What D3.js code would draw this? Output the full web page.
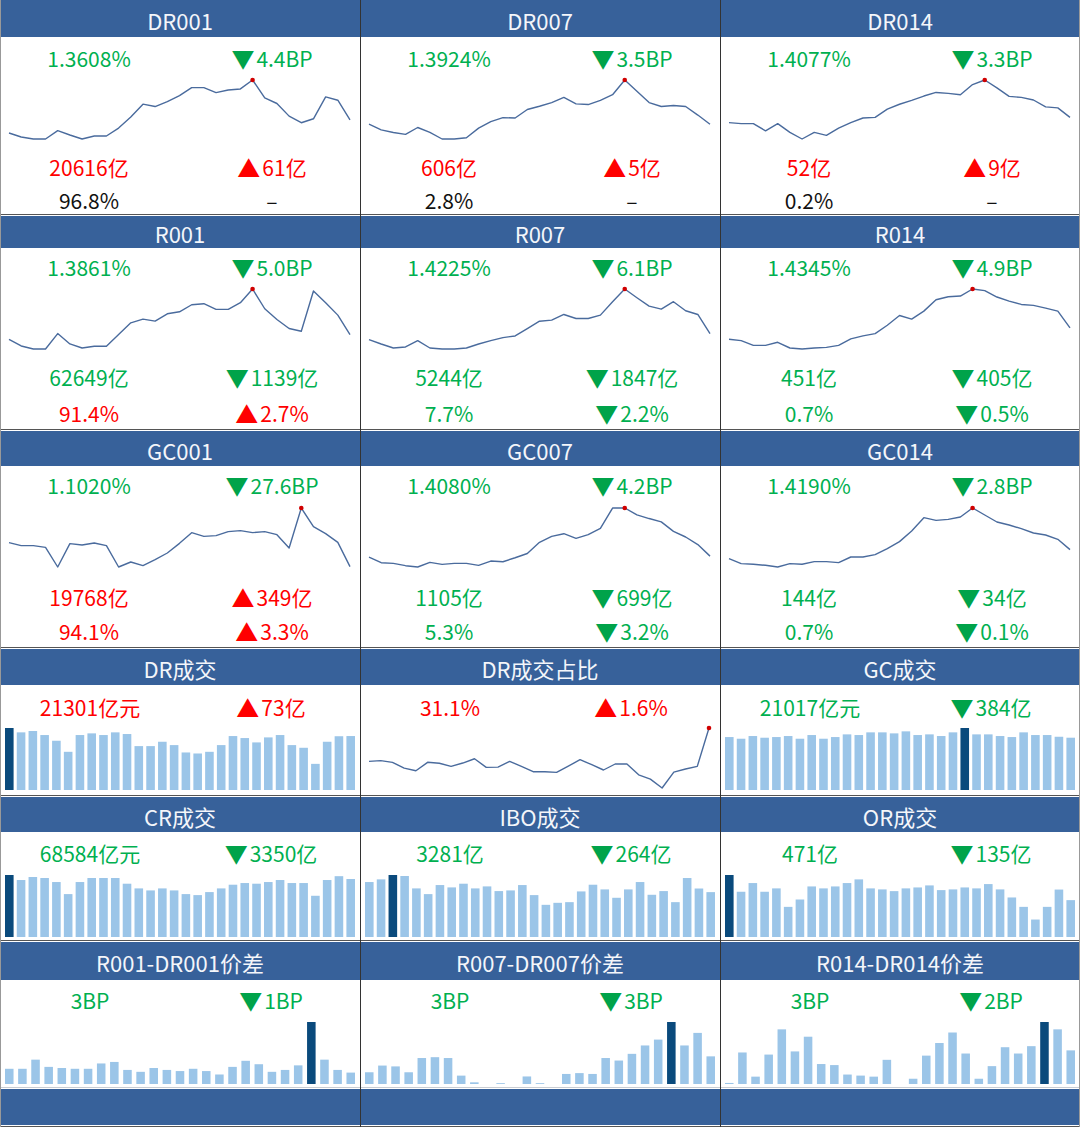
<!DOCTYPE html>
<html><head><meta charset="utf-8">
<script src="https://cdn.jsdelivr.net/npm/d3@7"></script>
<style>body{margin:0;background:#fff}svg{display:block}</style>
</head><body>
<svg id="c" width="1080" height="1127"></svg>
<script>
// ---------- DATA ----------
const rateTitles = ["DR001","DR007","DR014","R001","R007","R014","GC001","GC007","GC014"];
const dr001 = [1.3310,1.3220,1.3175,1.3175,1.3362,1.3265,1.3175,1.3242,1.3242,1.3421,1.3668,1.3959,1.3906,1.4018,1.4153,1.4332,1.4332,1.4220,1.4279,1.4302,1.4503,1.4100,1.3974,1.3690,1.3541,1.3630,1.4123,1.4048,1.3608];
const dr007 = [1.3924,1.3711,1.3611,1.3536,1.3799,1.3611,1.3361,1.3361,1.3411,1.3774,1.4024,1.4174,1.4161,1.4486,1.4611,1.4749,1.4949,1.4699,1.4674,1.4836,1.5049,1.5611,1.5186,1.4749,1.4599,1.4636,1.4599,1.4274,1.3924];
const dr014 = [1.3895,1.3861,1.3861,1.3610,1.3861,1.3554,1.3326,1.3554,1.3451,1.3701,1.3895,1.4054,1.4077,1.4362,1.4532,1.4669,1.4817,1.4942,1.4908,1.4862,1.5215,1.5374,1.5101,1.4805,1.4771,1.4680,1.4441,1.4407,1.4077];
const r001 = [1.3740,1.3568,1.3490,1.3490,1.3887,1.3620,1.3516,1.3559,1.3559,1.3861,1.4163,1.4258,1.4206,1.4395,1.4447,1.4628,1.4654,1.4508,1.4508,1.4680,1.5033,1.4525,1.4249,1.4016,1.3947,1.4982,1.4680,1.4361,1.3861];
const r007 = [1.4032,1.3893,1.3765,1.3797,1.4000,1.3765,1.3733,1.3733,1.3765,1.3893,1.4000,1.4097,1.4150,1.4386,1.4621,1.4653,1.4835,1.4707,1.4707,1.4814,1.5242,1.5648,1.5370,1.5102,1.5006,1.5242,1.4953,1.4835,1.4225];
const r014 = [1.4012,1.3973,1.3835,1.3835,1.3924,1.3757,1.3728,1.3757,1.3777,1.3835,1.4022,1.4110,1.4178,1.4423,1.4708,1.4600,1.4835,1.5168,1.5256,1.5276,1.5482,1.5433,1.5247,1.5129,1.5031,1.5002,1.4923,1.4835,1.4345];
const gc001 = [1.3742,1.3401,1.3401,1.3212,1.0982,1.3628,1.3477,1.3704,1.3401,1.0982,1.1549,1.1133,1.1814,1.2570,1.3666,1.4876,1.4460,1.4535,1.4989,1.5102,1.4876,1.4989,1.4649,1.3137,1.7673,1.5556,1.4762,1.3779,1.1020];
const gc007 = [1.4044,1.3840,1.3816,1.3732,1.3684,1.3852,1.3780,1.3816,1.3816,1.3744,1.3900,1.3876,1.4020,1.4176,1.4584,1.4800,1.4896,1.4728,1.4860,1.5088,1.5830,1.5832,1.5580,1.5448,1.5328,1.4980,1.4776,1.4500,1.4080];
const gc014 = [1.3946,1.3811,1.3793,1.3766,1.3720,1.3811,1.3793,1.3865,1.3865,1.3838,1.3991,1.3991,1.4055,1.4217,1.4407,1.4696,1.5057,1.4985,1.5012,1.5075,1.5319,1.5129,1.4940,1.4858,1.4759,1.4642,1.4587,1.4470,1.4190];
const rateSeries = [dr001,dr007,dr014,r001,r007,r014,gc001,gc007,gc014];

const rateLabels   = ["1.3608%","1.3924%","1.4077%","1.3861%","1.4225%","1.4345%","1.1020%","1.4080%","1.4190%"];
const rateChanges  = ["4.4BP","3.5BP","3.3BP","5.0BP","6.1BP","4.9BP","27.6BP","4.2BP","2.8BP"];
const rateDirs     = ["down","down","down","down","down","down","down","down","down"];
const volLabels    = ["20616亿","606亿","52亿","62649亿","5244亿","451亿","19768亿","1105亿","144亿"];
const volChanges   = ["61亿","5亿","9亿","1139亿","1847亿","405亿","349亿","699亿","34亿"];
const volDirs      = ["up","up","up","down","down","down","up","down","down"];
const shareLabels  = ["96.8%","2.8%","0.2%","91.4%","7.7%","0.7%","94.1%","5.3%","0.7%"];
const shareChanges = ["","","","2.7%","2.2%","0.5%","3.3%","3.2%","0.1%"];
const shareDirs    = ["none","none","none","up","down","down","up","down","down"];

// DR share of turnover (%)
const drShare = [29.71,29.74,29.67,29.43,29.32,29.67,29.63,29.50,29.64,29.82,29.46,29.47,29.71,29.50,29.28,29.28,29.25,29.51,29.78,29.57,29.35,29.60,29.60,29.15,28.97,28.60,29.26,29.39,29.50,31.10];

// turnover (亿元)
const drVolume  = [24480,22760,23290,21700,19450,15080,21700,22360,21700,22760,22100,17330,17330,19050,17730,14820,14420,15080,17730,21300,20510,18790,20770,21700,17730,16670,10320,19050,21228,21301];
const gcVolume  = [21280,20610,21690,21010,21280,21690,20610,22090,20610,21280,22360,22090,23170,23170,22760,23570,22090,22360,21690,23170,24920,22360,22360,21690,21280,23170,22090,22090,21401,21017];
const crVolume  = [73330,67390,70960,69770,65010,50740,65010,69770,69770,69770,63030,57480,55100,57480,55100,50740,49550,53120,57480,61840,63820,63030,65010,67390,63820,63820,48760,67390,71934,68584];
const iboVolume = [4018,4214,4533,4459,3553,3136,3798,3626,3896,3553,3700,3357,3406,3798,3063,2352,2499,2548,3332,3822,3479,2867,3479,4018,3087,3357,2548,4312,3545,3281];
const orVolume  = [792,578,689,578,621,385,479,646,621,646,689,736,621,608,586,621,633,659,599,608,633,621,676,608,505,385,223,385,606,471];

// spreads (BP)
const sp001 = [4.0,4.0,6.4,4.5,4.2,4.0,4.0,5.4,5.8,3.7,3.2,4.2,3.7,3.4,4.0,3.4,2.5,4.5,6.1,5.2,3.2,3.7,4.9,16.3,6.4,3.7,3.0];
const sp007 = [1.4,2.2,2.1,1.4,3.1,3.2,3.1,1.0,0.2,0.0,0.1,0.0,0.9,0.1,0.0,1.2,1.3,1.2,3.1,2.8,3.6,4.6,5.3,7.4,4.6,6.1,3.3];
const sp014 = [0.1,3.0,0.7,2.8,5.2,3.1,4.5,1.9,1.8,0.9,0.8,0.7,2.3,0.0,0.5,2.7,3.9,4.9,2.9,0.5,1.7,3.5,2.9,3.6,5.9,5.2,3.2];

const panelTitles = ["DR成交","DR成交占比","GC成交","CR成交","IBO成交","OR成交","R001-DR001价差","R007-DR007价差","R014-DR014价差"];
const panelLabels = ["21301亿元","31.1%","21017亿元","68584亿元","3281亿","471亿","3BP","3BP","3BP"];
const panelChanges= ["73亿","1.6%","384亿","3350亿","264亿","135亿","1BP","3BP","2BP"];
const panelDirs   = ["up","up","down","down","down","down","down","down","down"];
const panelSeries = [drVolume,drShare,gcVolume,crVolume,iboVolume,orVolume,sp001,sp007,sp014];
const panelKinds  = ["bar","line","bar","bar","bar","bar","bar","bar","bar"];

// ---------- STYLE / LAYOUT ----------
const FONT = '"Noto Sans CJK SC","Noto Sans",sans-serif';
const HEAD = "#37619A", LINEC = "#4A6B9D", DOT = "#D00000";
const UP = "#FF0000", DOWN = "#00B050", DOWN_TRI = "#00A34A", BLACK = "#111";
const BAR = "#9BC5E8", BAR_MAX = "#0A4A7C";
const COLW = 360;

const svg = d3.select("#c").style("font-family", FONT);

const rateRows = [
  {head:[0,37],   t1:58,  chart:[80,139],  t2:167, t3:200},
  {head:[216,248],t1:267, chart:[289,349], t2:377, t3:413},
  {head:[431,466],t1:485, chart:[508,567], t2:597, t3:631}
];
const panelRows = [
  {head:[649,685], t1:707,  chart:[728,790]},
  {head:[797,832], t1:853,  chart:[875,937]},
  {head:[942,980], t1:1000, chart:[1022,1084]}
];

function colorOf(dir){ return dir==="up"?UP:(dir==="down"?DOWN:BLACK); }

function header(x, y0, y1, title){
  svg.append("rect").attr("x",x).attr("y",y0).attr("width",COLW).attr("height",y1-y0).attr("fill",HEAD);
  svg.append("text").attr("x",x+COLW/2).attr("y",(y0+y1)/2+1)
    .attr("text-anchor","middle").attr("dominant-baseline","central")
    .attr("fill","#F4F6FA").attr("font-size",22).text(title);
}
function valueText(x, y, txt, dir){
  svg.append("text").attr("x",x).attr("y",y).attr("text-anchor","middle")
    .attr("dominant-baseline","central").attr("font-size",21).attr("fill",colorOf(dir)).text(txt);
}
function changeText(x, y, txt, dir){
  const t = svg.append("text").attr("x",x).attr("y",y).attr("text-anchor","middle")
    .attr("dominant-baseline","central").attr("font-size",21);
  if(dir==="none"){ t.attr("fill",BLACK).text("–"); return; }
  t.append("tspan").attr("fill", dir==="up"?UP:DOWN_TRI).attr("font-size",23).text(dir==="up"?"▲":"▼");
  t.append("tspan").attr("fill", colorOf(dir)).attr("dx",2).text(txt);
}
function lineChart(x0, y0, y1, data, xr){
  const x = d3.scalePoint().domain(d3.range(data.length)).range([x0+xr[0], x0+xr[1]]);
  const y = d3.scaleLinear().domain(d3.extent(data)).range([y1, y0]);
  svg.append("path").datum(data).attr("fill","none").attr("stroke",LINEC).attr("stroke-width",1.4)
    .attr("stroke-linejoin","round")
    .attr("d", d3.line().x((d,i)=>x(i)).y(d=>y(d)));
  const mi = d3.maxIndex(data);
  svg.append("circle").attr("cx",x(mi)).attr("cy",y(data[mi])).attr("r",2.3).attr("fill",DOT);
}
function barChart(x0, y0, y1, data){
  const pad = data.length < 29 ? 0.35 : 0.27;
  const x = d3.scaleBand().domain(d3.range(data.length)).range([x0+5, x0+355]).paddingInner(pad).paddingOuter(0.0);
  const y = d3.scaleLinear().domain([0, d3.max(data)]).range([y1, y0]);
  const mi = d3.maxIndex(data);
  svg.append("g").selectAll("rect").data(data).join("rect")
    .attr("x",(d,i)=>x(i)).attr("width",x.bandwidth())
    .attr("y",d=>y(d)).attr("height",d=>y1-y(d))
    .attr("fill",(d,i)=>i===mi?BAR_MAX:BAR);
}

// ---------- DRAW ----------
rateTitles.forEach((title,k)=>{
  const r = rateRows[Math.floor(k/3)], x0 = (k%3)*COLW;
  header(x0, r.head[0], r.head[1], title);
  valueText(x0+89, r.t1, rateLabels[k], rateDirs[k]);
  changeText(x0+272, r.t1, rateChanges[k], rateDirs[k]);
  lineChart(x0, r.chart[0], r.chart[1], rateSeries[k], [9,350]);
  valueText(x0+89, r.t2, volLabels[k], volDirs[k]);
  changeText(x0+272, r.t2, volChanges[k], volDirs[k]);
  valueText(x0+89, r.t3, shareLabels[k], shareDirs[k]);
  changeText(x0+272, r.t3, shareChanges[k], shareDirs[k]);
});
panelTitles.forEach((title,k)=>{
  const r = panelRows[Math.floor(k/3)], x0 = (k%3)*COLW;
  header(x0, r.head[0], r.head[1], title);
  valueText(x0+90, r.t1, panelLabels[k], panelDirs[k]);
  changeText(x0+271, r.t1, panelChanges[k], panelDirs[k]);
  if(panelKinds[k]==="line") lineChart(x0, r.chart[0], r.chart[1]-2, panelSeries[k], [9,349]);
  else barChart(x0, r.chart[0], r.chart[1], panelSeries[k]);
});
// bottom band
svg.append("rect").attr("x",0).attr("y",1089).attr("width",1080).attr("height",36).attr("fill",HEAD);
svg.append("line").attr("x1",0).attr("x2",1080).attr("y1",1087.5).attr("y2",1087.5).attr("stroke","#C8CCD2");

// grid lines
const hLines = [214.5, 429.5, 647.5, 795.5, 940.5, 1126.5];
hLines.forEach(y=>svg.append("line").attr("x1",0).attr("x2",1080).attr("y1",y).attr("y2",y).attr("stroke","#555").attr("stroke-width",1));
[360.5,720.5].forEach(x=>svg.append("line").attr("x1",x).attr("x2",x).attr("y1",0).attr("y2",1127).attr("stroke","#333"));
[0.5,1079.5].forEach(x=>svg.append("line").attr("x1",x).attr("x2",x).attr("y1",0).attr("y2",1127).attr("stroke","#999"));
</script>
</body></html>
